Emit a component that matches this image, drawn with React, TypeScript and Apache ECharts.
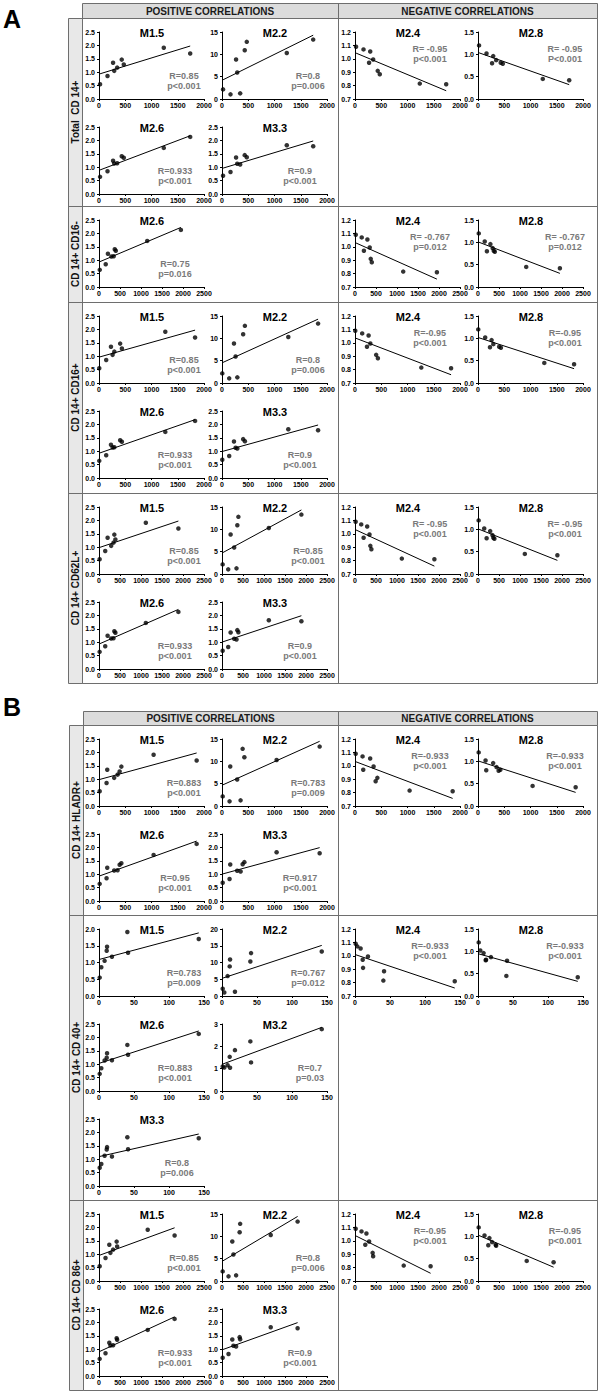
import React, { useEffect, useRef } from "react";
import * as echarts from "echarts";

// ---- Module scores (y values), patients p1..p9 in a fixed order ----
const M1_5 = [0.55, 0.86, 1.35, 1.05, 1.17, 1.47, 1.29, 1.91, 1.7];
const M2_2 = [2.15, 1.04, 8.83, 5.94, 1.26, 10.9, 12.8, 10.3, 13.3];
const M2_6 = [0.64, 0.85, 1.24, 1.14, 1.15, 1.41, 1.35, 1.72, 2.13];
const M3_3 = [0.68, 0.82, 1.36, 1.13, 1.1, 1.45, 1.37, 1.82, 1.78];
const M3_2 = [1.1, 1.05, 1.53, 1.15, 1.83, 1.04, 1.28, 2.22, 2.77];
const M2_4 = [1.09, 1.07, 0.97, 1.055, 0.995, 0.91, 0.885, 0.815, 0.81];
const M2_8 = [1.2, 1.02, 0.8, 0.96, 0.87, 0.81, 0.79, 0.45, 0.42];

// ---- Cell counts (x values) per population, same patient order ----
const TOTAL_CD14 = [20, 162, 268, 290, 346, 433, 472, 1234, 1737];
const CD14_CD16NEG = [18, 160, 212, 295, 350, 375, 400, 1148, 1950];
const CD14_CD16POS = [5, 137, 228, 259, 292, 403, 436, 1263, 1830];
const CD14_CD62L = [15, 148, 205, 290, 345, 365, 390, 1115, 1890];
const CD14_HLADR = [13, 144, 157, 289, 354, 426, 393, 1040, 1860];
const CD14_CD40 = [1, 3.3, 11, 8, 18.5, 11.5, 41.5, 40.5, 142.5];
const CD14_CD86 = [16, 155, 245, 272, 336, 420, 432, 1160, 1800];

const POPULATION_LABELS = [
  "Total  CD 14+",
  "CD 14+ CD16-",
  "CD 14+ CD16+",
  "CD 14+ CD62L+",
  "CD 14+ HLADR+",
  "CD 14+ CD 40+",
  "CD 14+ CD 86+",
];
const POPULATION_VALUES = [TOTAL_CD14, CD14_CD16NEG, CD14_CD16POS, CD14_CD62L, CD14_HLADR, CD14_CD40, CD14_CD86];
const POPULATION_XMAX = [2000, 2500, 2000, 2500, 2000, 150, 2500];
const POPULATION_XSTEP = [500, 500, 500, 500, 500, 50, 500];

const MODULE_NAMES = ["M1.5", "M2.2", "M2.6", "M3.3", "M3.2", "M2.4", "M2.8"];
const MODULE_VALUES = [M1_5, M2_2, M2_6, M3_3, M3_2, M2_4, M2_8];
const MODULE_YMIN = [0, 0, 0, 0, 0, 0.7, 0];
const MODULE_YMAX = [2.5, 15, 2.5, 2.5, 3, 1.2, 1.5];
const MODULE_YSTEP = [0.5, 5, 0.5, 0.5, 1, 0.1, 0.5];
const MODULE_DECIMALS = [1, 0, 1, 1, 0, 1, 1];

const HEADER_LABELS = ["POSITIVE CORRELATIONS", "NEGATIVE CORRELATIONS"];
const PANEL_LABELS = ["A", "B"];

// [population, module, line in row, column, R label, p label, y max override]
const PLOTS: Array<[number, string, number, number, string, string, number?]> = [
  [0, "M1.5", 0, 0, "R=0.85", "p<0.001"],
  [0, "M2.2", 0, 1, "R=0.8", "p=0.006"],
  [0, "M2.6", 1, 0, "R=0.933", "p<0.001"],
  [0, "M3.3", 1, 1, "R=0.9", "p<0.001"],
  [0, "M2.4", 0, 2, "R= -0.95", "p<0.001"],
  [0, "M2.8", 0, 3, "R= -0.95", "P<0.001"],

  [1, "M2.6", 0, 0, "R=0.75", "p=0.016"],
  [1, "M2.4", 0, 2, "R= -0.767", "p=0.012"],
  [1, "M2.8", 0, 3, "R= -0.767", "p=0.012"],

  [2, "M1.5", 0, 0, "R=0.85", "p<0.001"],
  [2, "M2.2", 0, 1, "R=0.8", "p=0.006"],
  [2, "M2.6", 1, 0, "R=0.933", "p<0.001"],
  [2, "M3.3", 1, 1, "R=0.9", "p<0.001"],
  [2, "M2.4", 0, 2, "R=-0.95", "p<0.001"],
  [2, "M2.8", 0, 3, "R=-0.95", "p<0.001"],

  [3, "M1.5", 0, 0, "R=0.85", "p<0.001"],
  [3, "M2.2", 0, 1, "R=0.85", "p<0.001"],
  [3, "M2.6", 1, 0, "R=0.933", "p<0.001"],
  [3, "M3.3", 1, 1, "R=0.9", "p<0.001"],
  [3, "M2.4", 0, 2, "R= -0.95", "p<0.001"],
  [3, "M2.8", 0, 3, "R= -0.95", "p<0.001"],

  [4, "M1.5", 0, 0, "R=0.883", "p<0.001"],
  [4, "M2.2", 0, 1, "R=0.783", "p=0.009"],
  [4, "M2.6", 1, 0, "R=0.95", "p<0.001"],
  [4, "M3.3", 1, 1, "R=0.917", "p<0.001"],
  [4, "M2.4", 0, 2, "R=-0.933", "p<0.001"],
  [4, "M2.8", 0, 3, "R=-0.933", "p<0.001"],

  [5, "M1.5", 0, 0, "R=0.783", "p=0.009", 2],
  [5, "M2.2", 0, 1, "R=0.767", "p=0.012", 20],
  [5, "M2.6", 1, 0, "R=0.883", "p<0.001"],
  [5, "M3.2", 1, 1, "R=0.7", "p=0.03"],
  [5, "M3.3", 2, 0, "R=0.8", "p=0.006"],
  [5, "M2.4", 0, 2, "R=-0.933", "p<0.001"],
  [5, "M2.8", 0, 3, "R=-0.933", "p<0.001"],

  [6, "M1.5", 0, 0, "R=0.85", "p<0.001"],
  [6, "M2.2", 0, 1, "R=0.8", "p=0.006"],
  [6, "M2.6", 1, 0, "R=0.933", "p<0.001"],
  [6, "M3.3", 1, 1, "R=0.9", "p<0.001"],
  [6, "M2.4", 0, 2, "R=-0.95", "p<0.001"],
  [6, "M2.8", 0, 3, "R=-0.95", "p<0.001"],
];

// ---- layout ----
const W = 598;
const H = 1393;
const FONT = '"Liberation Sans", Arial, sans-serif';
const ROW_TOP = [18, 206, 302, 493, 725, 915, 1200];
const ROW_BOTTOM = [206, 302, 493, 683, 915, 1200, 1390];
const PANEL_TOP = [3, 711];
const PANEL_HEADER_BOTTOM = [18, 725];
const PANEL_BOTTOM = [683, 1390];
const PANEL_LETTER_Y = [19, 707];
const PANEL_ROWS = [[0, 1, 2, 3], [4, 5, 6]];
const LABEL_COL_LEFT = [68, 69];
const LABEL_COL_RIGHT = [82, 83];
const RIGHT_EDGE = 597;
const MID_X = 338;
const PLOT_LEFT = [99, 222, 355, 478];
const PLOT_W = 105;
const PLOT_H = 67;
const LINE_STEP = 95;
const FIRST_LINE_OFFSET = 14;
const TEXT_OFFSET_X: Record<string, number> = {
  "M1.5": 85, "M2.2": 86, "M2.6": 76, "M3.3": 78, "M3.2": 88, "M2.4": 75, "M2.8": 87,
};
const BORDER = "#6e6e6e";

function fitLine(xs: number[], ys: number[]) {
  const n = xs.length;
  let mx = 0, my = 0;
  for (let i = 0; i < n; i++) { mx += xs[i]; my += ys[i]; }
  mx /= n; my /= n;
  let sxy = 0, sxx = 0;
  for (let i = 0; i < n; i++) { sxy += (xs[i] - mx) * (ys[i] - my); sxx += (xs[i] - mx) ** 2; }
  const b = sxy / sxx;
  const a = my - b * mx;
  const x0 = Math.min(...xs), x1 = Math.max(...xs);
  return [[x0, a + b * x0], [x1, a + b * x1]];
}

function txt(x: number, y: number, text: string, font: string, fill: string, align = "center", vAlign = "middle", rotation = 0) {
  return {
    type: "text", x, y, rotation, silent: true, z: 10,
    style: { text, font, fill, align, verticalAlign: vAlign, textAlign: align, textVerticalAlign: vAlign },
  };
}
function hline(x1: number, x2: number, y: number) {
  return { type: "line", silent: true, z: 5, shape: { x1, y1: y + 0.5, x2, y2: y + 0.5 }, style: { stroke: BORDER, lineWidth: 1 } };
}
function vline(x: number, y1: number, y2: number) {
  return { type: "line", silent: true, z: 5, shape: { x1: x + 0.5, y1, x2: x + 0.5, y2 }, style: { stroke: BORDER, lineWidth: 1 } };
}
function box(x: number, y: number, w: number, h: number, fill: string) {
  return { type: "rect", silent: true, z: 1, shape: { x: x + 0.5, y: y + 0.5, width: w, height: h }, style: { fill, stroke: BORDER, lineWidth: 1 } };
}

function buildOption() {
  const grid: any[] = [];
  const xAxis: any[] = [];
  const yAxis: any[] = [];
  const series: any[] = [];
  const graphic: any[] = [];

  for (let p = 0; p < 2; p++) {
    const top = PANEL_TOP[p], hb = PANEL_HEADER_BOTTOM[p], bot = PANEL_BOTTOM[p];
    const lc = LABEL_COL_LEFT[p], rc = LABEL_COL_RIGHT[p];
    graphic.push(box(rc, top, RIGHT_EDGE - rc, hb - top, "#dcdcdc"));
    graphic.push(box(lc, hb, rc - lc, bot - hb, "#e8e8e8"));
    graphic.push(box(rc, hb, RIGHT_EDGE - rc, bot - hb, "none"));
    graphic.push(vline(MID_X, top, bot));
    PANEL_ROWS[p].forEach((r, k) => {
      if (k > 0) graphic.push(hline(lc, RIGHT_EDGE, ROW_TOP[r]));
      graphic.push(txt((lc + rc) / 2 + 0.5, (ROW_TOP[r] + ROW_BOTTOM[r]) / 2, POPULATION_LABELS[r], `bold 10px ${FONT}`, "#111", "center", "middle", Math.PI / 2));
    });
    graphic.push(txt((rc + MID_X) / 2, (top + hb) / 2 + 0.5, HEADER_LABELS[0], `bold 10px ${FONT}`, "#1a1a1a"));
    graphic.push(txt((MID_X + RIGHT_EDGE) / 2, (top + hb) / 2 + 0.5, HEADER_LABELS[1], `bold 10px ${FONT}`, "#1a1a1a"));
    graphic.push(txt(3, PANEL_LETTER_Y[p], PANEL_LABELS[p], `bold 25px ${FONT}`, "#000", "left", "middle"));
  }

  PLOTS.forEach((pl, i) => {
    const [pop, mod, line, col, rLab, pLab, yMaxOverride] = pl;
    const m = MODULE_NAMES.indexOf(mod);
    const xs = POPULATION_VALUES[pop];
    const ys = MODULE_VALUES[m];
    const left = PLOT_LEFT[col];
    const top = ROW_TOP[pop] + FIRST_LINE_OFFSET + line * LINE_STEP;
    const dec = MODULE_DECIMALS[m];
    const labelStyle = { fontSize: 7, fontWeight: "bold", color: "#000", fontFamily: FONT };
    grid.push({ left, top, width: PLOT_W, height: PLOT_H, containLabel: false });
    xAxis.push({
      gridIndex: i, type: "value", min: 0, max: POPULATION_XMAX[pop], interval: POPULATION_XSTEP[pop],
      axisLine: { show: true, onZero: false, lineStyle: { color: "#000", width: 1 } },
      axisTick: { show: true, length: 2, lineStyle: { color: "#000", width: 1 } },
      splitLine: { show: false },
      axisLabel: { ...labelStyle, margin: 3, formatter: (v: number) => String(v) },
    });
    yAxis.push({
      gridIndex: i, type: "value", min: MODULE_YMIN[m], max: yMaxOverride ?? MODULE_YMAX[m], interval: MODULE_YSTEP[m],
      axisLine: { show: true, onZero: false, lineStyle: { color: "#000", width: 1 } },
      axisTick: { show: true, length: 2, lineStyle: { color: "#000", width: 1 } },
      splitLine: { show: false },
      axisLabel: { ...labelStyle, margin: 4, formatter: (v: number) => v.toFixed(dec) },
    });
    series.push({
      type: "scatter", xAxisIndex: i, yAxisIndex: i, silent: true, symbolSize: 4.5,
      itemStyle: { color: "#000" }, data: xs.map((x, k) => [x, ys[k]]),
    });
    series.push({
      type: "line", xAxisIndex: i, yAxisIndex: i, silent: true, symbol: "none", showSymbol: false,
      lineStyle: { color: "#000", width: 1 }, data: fitLine(xs, ys),
    });
    graphic.push(txt(left + 53, top + 1, mod, `bold 11px ${FONT}`, "#000"));
    const positive = col < 2;
    const tx = left + TEXT_OFFSET_X[mod];
    const ty = positive ? top + 44 : top + 17;
    graphic.push(txt(tx, ty, rLab, `bold 9px ${FONT}`, "#7a7a7a"));
    graphic.push(txt(tx, ty + 10, pLab, `bold 9px ${FONT}`, "#7a7a7a"));
  });

  return { animation: false, backgroundColor: "#fff", grid, xAxis, yAxis, series, graphic: { elements: graphic } };
}

export default function App() {
  const ref = useRef<HTMLDivElement>(null);
  useEffect(() => {
    document.body.style.margin = "0";
    const chart = echarts.init(ref.current!, null, { renderer: "svg" });
    chart.setOption(buildOption() as any);
    return () => chart.dispose();
  }, []);
  return <div ref={ref} style={{ position: "absolute", left: 0, top: 0, width: W, height: H, background: "#fff" }} />;
}
